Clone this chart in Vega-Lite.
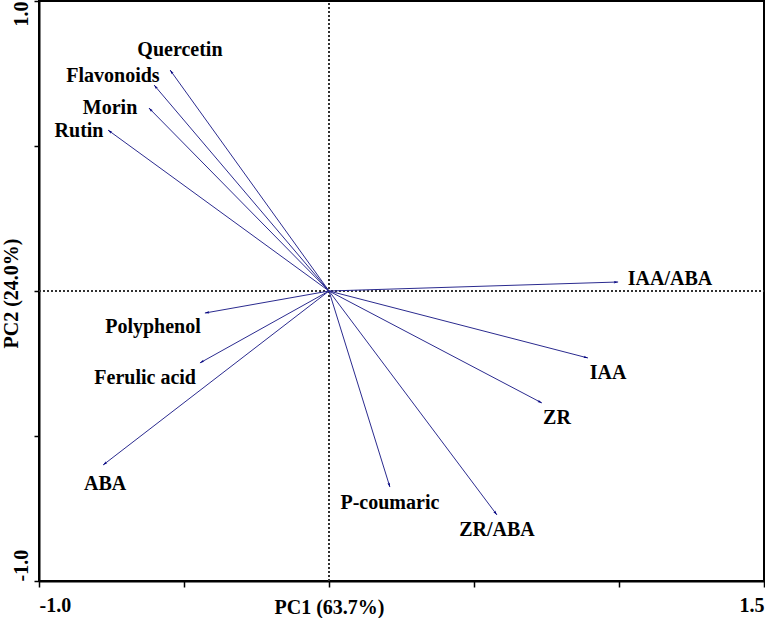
{
  "$schema": "https://vega.github.io/schema/vega-lite/v6.json",
  "width": 725,
  "height": 580,
  "autosize": {"type": "none"},
  "padding": {"left": 39, "top": 1, "right": 1, "bottom": 37},
  "background": "white",
  "config": {
    "view": {"stroke": "#000000", "strokeWidth": 2},
    "font": "Liberation Serif"
  },
  "data": {
    "values": [
      {"name": "Quercetin", "x": -0.548, "y": 0.762, "lx": -0.514, "ly": 0.831},
      {"name": "Flavonoids", "x": -0.603, "y": 0.71, "lx": -0.745, "ly": 0.741},
      {"name": "Morin", "x": -0.621, "y": 0.631, "lx": -0.755, "ly": 0.631},
      {"name": "Rutin", "x": -0.762, "y": 0.555, "lx": -0.862, "ly": 0.552},
      {"name": "Polyphenol", "x": -0.428, "y": -0.076, "lx": -0.607, "ly": -0.124},
      {"name": "Ferulic acid", "x": -0.445, "y": -0.248, "lx": -0.634, "ly": -0.3},
      {"name": "ABA", "x": -0.779, "y": -0.6, "lx": -0.772, "ly": -0.666},
      {"name": "P-coumaric", "x": 0.21, "y": -0.676, "lx": 0.21, "ly": -0.731},
      {"name": "ZR/ABA", "x": 0.579, "y": -0.772, "lx": 0.579, "ly": -0.824},
      {"name": "ZR", "x": 0.734, "y": -0.386, "lx": 0.786, "ly": -0.438},
      {"name": "IAA", "x": 0.893, "y": -0.231, "lx": 0.962, "ly": -0.283},
      {"name": "IAA/ABA", "x": 0.997, "y": 0.031, "lx": 1.176, "ly": 0.041}
    ]
  },
  "layer": [
    {
      "mark": {"type": "rule", "color": "#333333", "strokeWidth": 1, "strokeDash": [2, 2]},
      "encoding": {
        "x": {"datum": 0, "type": "quantitative", "scale": {"domain": [-1, 1.5], "nice": false, "zero": false},
          "axis": {
            "values": [-1, -0.5, 0, 0.5, 1, 1.5],
            "labelExpr": "datum.value == -1 ? '-1.0' : (datum.value == 1.5 ? '1.5' : '')",
            "labelAlign": {"condition": {"test": "datum.value < 0", "value": "left"}, "value": "right"},
            "labelBaseline": "alphabetic",
            "labelFont": "Liberation Serif", "labelFontSize": 20, "labelFontWeight": "bold", "labelColor": "#000000",
            "tickSize": 6, "tickColor": "#000000", "tickWidth": 1.5,
            "labelPadding": 24,
            "domain": true, "domainColor": "#000000", "domainWidth": 2,
            "grid": false,
            "title": "PC1 (63.7%)",
            "titleFont": "Liberation Serif", "titleFontSize": 20, "titleFontWeight": "bold", "titleColor": "#000000",
            "titleX": 290, "titleY": 32, "titleBaseline": "alphabetic", "titleAlign": "center"
          }
        },
        "y": {"datum": 0, "type": "quantitative", "scale": {"domain": [-1, 1], "nice": false, "zero": false},
          "axis": {
            "values": [-1, -0.5, 0, 0.5, 1],
            "labelExpr": "datum.value == -1 ? '-1.0' : (datum.value == 1 ? '1.0' : '')",
            "labelAngle": -90,
            "labelAlign": {"condition": {"test": "datum.value > 0", "value": "right"}, "value": "left"},
            "labelBaseline": "alphabetic",
            "labelFont": "Liberation Serif", "labelFontSize": 20, "labelFontWeight": "bold", "labelColor": "#000000",
            "tickSize": 5, "tickColor": "#000000", "tickWidth": 1.5,
            "labelPadding": 7,
            "domain": true, "domainColor": "#000000", "domainWidth": 2,
            "grid": false,
            "title": "PC2 (24.0%)",
            "titleFont": "Liberation Serif", "titleFontSize": 20, "titleFontWeight": "bold", "titleColor": "#000000",
            "titleAngle": -90, "titleX": -22, "titleY": 292, "titleBaseline": "alphabetic", "titleAlign": "center"
          }
        }
      }
    },
    {
      "mark": {"type": "rule", "color": "#333333", "strokeWidth": 1, "strokeDash": [2, 2]},
      "encoding": {
        "x": {"datum": 0, "type": "quantitative"},
        "y": {"datum": -1, "type": "quantitative"},
        "y2": {"datum": 1}
      }
    },
    {
      "mark": {"type": "rule", "color": "#333333", "strokeWidth": 1, "strokeDash": [2, 2]},
      "encoding": {
        "y": {"datum": 0, "type": "quantitative"},
        "x": {"datum": -1, "type": "quantitative"},
        "x2": {"datum": 1.5}
      }
    },
    {
      "mark": {"type": "rule", "color": "#2b2b8f", "strokeWidth": 1},
      "encoding": {
        "x": {"field": "x", "type": "quantitative"},
        "y": {"field": "y", "type": "quantitative"},
        "x2": {"datum": 0},
        "y2": {"datum": 0}
      }
    },
    {
      "transform": [{"calculate": "atan2(datum.x, datum.y) * 180 / PI", "as": "ang"}],
      "mark": {"type": "point", "shape": "M0,0L-0.4,1.4L0,1.1L0.4,1.4Z", "filled": true, "color": "#000080", "opacity": 1, "size": 40},
      "encoding": {
        "x": {"field": "x", "type": "quantitative"},
        "y": {"field": "y", "type": "quantitative"},
        "angle": {"field": "ang", "type": "quantitative", "scale": null}
      }
    },
    {
      "mark": {"type": "text", "font": "Liberation Serif", "fontSize": 20, "fontWeight": "bold", "color": "#000000", "align": "center", "baseline": "middle"},
      "encoding": {
        "x": {"field": "lx", "type": "quantitative"},
        "y": {"field": "ly", "type": "quantitative"},
        "text": {"field": "name", "type": "nominal"}
      }
    }
  ]
}
